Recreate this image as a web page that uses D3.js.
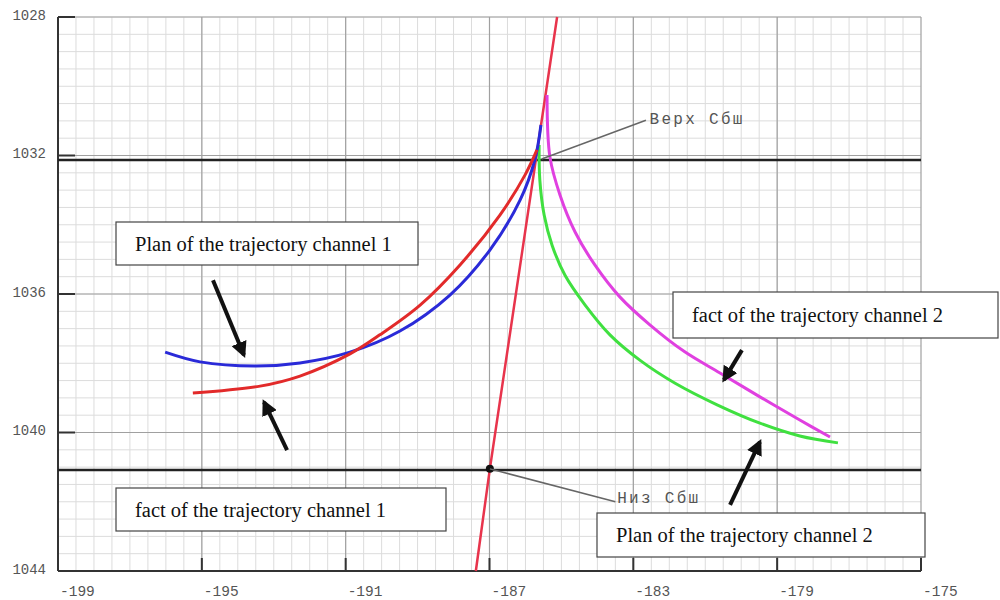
<!DOCTYPE html>
<meta charset="utf-8">
<body style="margin:0;background:#fff">
<script src="https://cdn.jsdelivr.net/npm/d3@7"></script>
<script>
var width = 1000, height = 600;

// tick values of the axes
var xTicks = [-199, -195, -191, -187, -183, -179, -175];
var yTicks = [1028, 1032, 1036, 1040, 1044];

// levels of the two horizontal boundaries
var levels = [
  {name: "Верх Сбш", y: 1032.13},
  {name: "Низ Сбш", y: 1041.08}
];

// trajectories: [x, y]
var planCh1 = [[-196.02,1037.68],[-195.05,1037.96],[-193.52,1038.08],[-192.27,1037.99],[-190.88,1037.68],
  [-189.49,1037.07],[-188.10,1036.03],[-186.99,1034.73],[-186.15,1033.29],[-185.74,1032.13],[-185.57,1031.12]];
var factCh1 = [[-195.25,1038.86],[-193.38,1038.66],[-192.27,1038.37],[-190.88,1037.73],[-190.05,1037.18],
  [-188.93,1036.32],[-187.82,1035.16],[-186.71,1033.72],[-186.01,1032.56],[-185.68,1031.84]];
var factCh2 = [[-185.40,1030.25],[-185.32,1032.04],[-185.04,1033.14],[-184.62,1034.21],[-184.07,1035.16],
  [-183.37,1036.09],[-182.54,1036.89],[-181.57,1037.67],[-180.59,1038.28],[-179.48,1038.97],[-178.37,1039.64],
  [-177.53,1040.13]];
var planCh2 = [[-185.62,1031.70],[-185.60,1032.71],[-185.48,1033.72],[-185.26,1034.59],[-184.90,1035.46],
  [-184.34,1036.32],[-183.65,1037.18],[-182.82,1037.91],[-181.85,1038.57],[-180.67,1039.20],[-179.48,1039.73],
  [-178.37,1040.10],[-177.31,1040.30]];
var steepLine = [[-187.38,1044],[-186.99,1041.05],[-185.12,1028]];

var svg = d3.select("body").append("svg")
  .attr("width", width)
  .attr("height", height);

var x = d3.scaleLinear().domain([-199, -175]).range([58, 921]);
var y = d3.scaleLinear().domain([1028, 1044]).range([17, 571]);

// minor grid
var g = svg.append("g");
g.selectAll(".vx").data(d3.range(-199, -175.01, 0.5)).enter().append("line")
  .attr("x1", d => x(d)).attr("x2", d => x(d))
  .attr("y1", y(1028)).attr("y2", y(1044))
  .style("stroke", "#dcdcdc").style("stroke-width", 1);
g.selectAll(".hy").data(d3.range(1028, 1044.01, 0.5)).enter().append("line")
  .attr("y1", d => y(d)).attr("y2", d => y(d))
  .attr("x1", x(-199)).attr("x2", x(-175))
  .style("stroke", "#dcdcdc").style("stroke-width", 1);

// major grid
g.selectAll(".mx").data(xTicks).enter().append("line")
  .attr("x1", d => x(d)).attr("x2", d => x(d))
  .attr("y1", y(1028)).attr("y2", y(1044))
  .style("stroke", "#a0a0a0").style("stroke-width", 1.2);
g.selectAll(".my").data(yTicks).enter().append("line")
  .attr("y1", d => y(d)).attr("y2", d => y(d))
  .attr("x1", x(-199)).attr("x2", x(-175))
  .style("stroke", "#a0a0a0").style("stroke-width", 1.2);

// axes
svg.append("line").attr("x1", x(-199)).attr("x2", x(-199)).attr("y1", y(1028)).attr("y2", y(1044))
  .style("stroke", "#333").style("stroke-width", 2);
svg.append("line").attr("x1", x(-199)).attr("x2", x(-175)).attr("y1", y(1044)).attr("y2", y(1044))
  .style("stroke", "#333").style("stroke-width", 2);
svg.selectAll(".tx").data(xTicks).enter().append("line")
  .attr("x1", d => x(d)).attr("x2", d => x(d)).attr("y1", y(1044)).attr("y2", y(1044) - 13)
  .style("stroke", "#333").style("stroke-width", 2);
svg.selectAll(".ty").data(yTicks).enter().append("line")
  .attr("y1", d => y(d)).attr("y2", d => y(d)).attr("x1", x(-199)).attr("x2", x(-199) + 17)
  .style("stroke", "#333").style("stroke-width", 2);

svg.selectAll(".lx").data(xTicks).enter().append("text")
  .attr("x", d => x(d) + 2).attr("y", 592)
  .attr("dominant-baseline", "middle")
  .style("font-family", "Liberation Mono").style("font-size", "14.5px").style("fill", "#555")
  .text(d => d);
svg.selectAll(".ly").data(yTicks).enter().append("text")
  .attr("x", 46).attr("y", d => y(d) - 1)
  .attr("text-anchor", "end").attr("dominant-baseline", "middle")
  .style("font-family", "Liberation Mono").style("font-size", "14px").style("fill", "#555")
  .text(d => d);

// boundary levels
svg.selectAll(".lev").data(levels).enter().append("line")
  .attr("x1", x(-199)).attr("x2", x(-175))
  .attr("y1", d => y(d.y)).attr("y2", d => y(d.y))
  .style("stroke", "#222").style("stroke-width", 2.5);

var line = d3.line().x(d => x(d[0])).y(d => y(d[1])).curve(d3.curveCatmullRom);

svg.append("path").attr("d", d3.line().x(d => x(d[0])).y(d => y(d[1]))(steepLine))
  .style("fill", "none").style("stroke", "#e8344c").style("stroke-width", 2.5);

var series = [
  {data: planCh2, color: "#40e040"},
  {data: factCh2, color: "#e040e0"},
  {data: planCh1, color: "#2a2ad8"},
  {data: factCh1, color: "#e22a2a"}
];
svg.selectAll(".curve").data(series).enter().append("path")
  .attr("d", d => line(d.data))
  .style("fill", "none").style("stroke", d => d.color).style("stroke-width", 3);

// intersection dot
svg.append("circle").attr("cx", x(steepLine[1][0])).attr("cy", y(steepLine[1][1])).attr("r", 4).style("fill", "#111");

// leader lines and level labels
var leaders = [
  {from: [-185.55, 1032.1], to: [-182.65, 1030.98], label: [-182.55, 1031.1]},
  {from: [-186.99, 1041.05], to: [-183.5, 1042.0], label: [-183.45, 1042.05]}
];
svg.selectAll(".lead").data(leaders).enter().append("line")
  .attr("x1", d => x(d.from[0])).attr("y1", d => y(d.from[1]))
  .attr("x2", d => x(d.to[0])).attr("y2", d => y(d.to[1]))
  .style("stroke", "#666").style("stroke-width", 1.5);
svg.selectAll(".levlab").data(leaders).enter().append("text")
  .attr("x", d => x(d.label[0])).attr("y", d => y(d.label[1]))
  .style("font-family", "Liberation Mono").style("font-size", "16px").style("letter-spacing", "2.3px")
  .style("fill", "#555")
  .text((d, i) => levels[i].name);

// arrows
var defs = svg.append("defs");
defs.append("marker").attr("id", "head").attr("viewBox", "0 0 10 10")
  .attr("refX", 8).attr("refY", 5).attr("markerWidth", 4).attr("markerHeight", 4)
  .attr("orient", "auto")
  .append("path").attr("d", "M0,0L10,5L0,10z").style("fill", "#111");
var arrows = [
  [[-194.69, 1035.60], [-193.83, 1037.76]],
  [[-192.63, 1040.51], [-193.27, 1039.12]],
  [[-179.98, 1037.62], [-180.48, 1038.48]],
  [[-180.31, 1042.09], [-179.48, 1040.27]]
];
svg.selectAll(".arrow").data(arrows).enter().append("line")
  .attr("x1", d => x(d[0][0])).attr("y1", d => y(d[0][1]))
  .attr("x2", d => x(d[1][0])).attr("y2", d => y(d[1][1]))
  .attr("marker-end", "url(#head)")
  .style("stroke", "#111").style("stroke-width", 4);

// text boxes
var boxes = [
  {text: "Plan of the trajectory channel 1", x: 116, y: 222, w: 302, h: 43},
  {text: "fact of the trajectory channel 2", x: 673, y: 292, w: 325, h: 46},
  {text: "fact of the trajectory channel 1", x: 116, y: 488, w: 330, h: 43},
  {text: "Plan of the trajectory channel 2", x: 597, y: 513, w: 328, h: 44}
];
var bx = svg.selectAll(".box").data(boxes).enter().append("g");
bx.append("rect")
  .attr("x", d => d.x).attr("y", d => d.y).attr("width", d => d.w).attr("height", d => d.h)
  .style("fill", "#fff").style("stroke", "#444").style("stroke-width", 1.2);
bx.append("text")
  .attr("x", d => d.x + 19).attr("y", d => d.y + d.h / 2 + 7)
  .style("font-family", "Liberation Serif").style("font-size", "20.5px").style("fill", "#111")
  .text(d => d.text);
</script>
</body>
